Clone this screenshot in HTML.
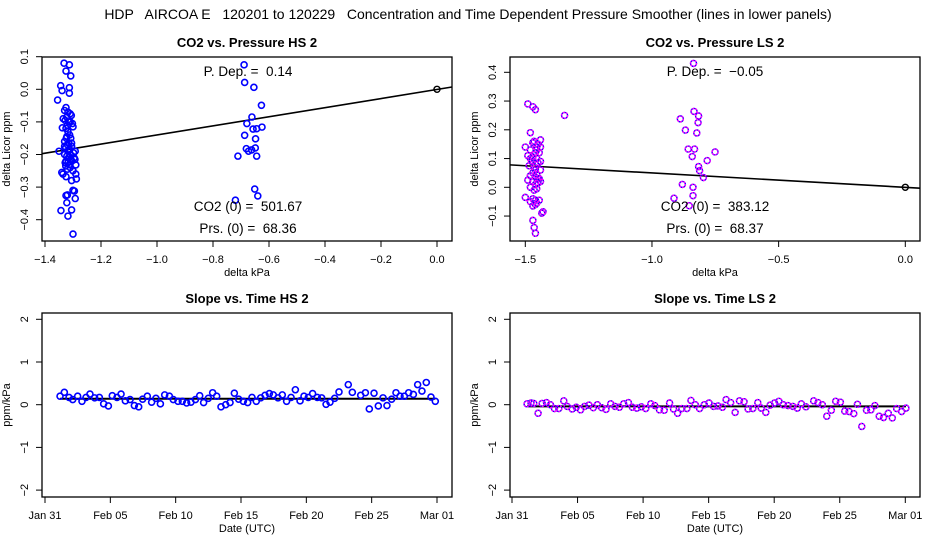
<!DOCTYPE html>
<html><head><meta charset="utf-8"><style>
body{margin:0;background:#fff;}
svg{display:block;font-family:"Liberation Sans",sans-serif;}
text{white-space:pre;}
</style></head><body>
<svg id="chart" width="936" height="540" xmlns="http://www.w3.org/2000/svg" xml:space="preserve">
<text x="468" y="19" font-size="14" text-anchor="middle">HDP   AIRCOA E   120201 to 120229   Concentration and Time Dependent Pressure Smoother (lines in lower panels)</text>
</svg>
<script>
// ---- data ----
const hsPresX = [-1.332,-1.313,-1.325,-1.308,-1.344,-1.313,-1.339,-1.313,-1.355,-1.325,-1.33,-1.318,-1.31,-1.322,-1.306,-1.335,-1.328,-1.315,-1.302,-1.32,-1.31,-1.325,-1.3,-1.318,-1.338,-1.312,-1.322,-1.308,-1.33,-1.315,-1.32,-1.305,-1.326,-1.312,-1.35,-1.318,-1.298,-1.33,-1.31,-1.322,-1.296,-1.316,-1.308,-1.325,-1.304,-1.318,-1.312,-1.29,-1.326,-1.31,-1.32,-1.3,-1.315,-1.305,-1.324,-1.33,-1.292,-1.34,-1.336,-1.29,-1.288,-1.305,-1.325,-1.3,-1.325,-1.295,-1.32,-1.292,-1.343,-1.305,-1.322,-1.293,-1.318,-1.31,-1.328,-1.3,
-0.689,-0.687,-0.654,-0.627,-0.661,-0.679,-0.657,-0.644,-0.625,-0.687,-0.648,-0.681,-0.649,-0.673,-0.662,-0.711,-0.644,-0.651,-0.64,-0.72];
const hsPresY = [0.08,0.075,0.056,0.041,0.011,0.005,-0.004,-0.012,-0.033,-0.056,-0.065,-0.07,-0.075,-0.085,-0.08,-0.09,-0.095,-0.1,-0.105,-0.11,-0.1,-0.12,-0.115,-0.13,-0.118,-0.14,-0.145,-0.15,-0.16,-0.165,-0.17,-0.175,-0.18,-0.185,-0.19,-0.19,-0.195,-0.2,-0.2,-0.205,-0.21,-0.21,-0.215,-0.22,-0.22,-0.225,-0.23,-0.232,-0.235,-0.24,-0.245,-0.25,-0.185,-0.165,-0.15,-0.175,-0.19,-0.255,-0.26,-0.26,-0.275,-0.28,-0.268,-0.31,-0.326,-0.312,-0.324,-0.335,-0.372,-0.37,-0.348,-0.215,-0.389,-0.2,-0.225,-0.444,
0.075,0.021,0.006,-0.049,-0.085,-0.105,-0.122,-0.121,-0.116,-0.141,-0.152,-0.182,-0.18,-0.19,-0.186,-0.205,-0.205,-0.306,-0.327,-0.34];
const lsPresX = [-1.49,-1.47,-1.46,-1.5,-1.48,-1.465,-1.45,-1.44,-1.47,-1.455,-1.48,-1.46,-1.445,-1.49,-1.47,-1.455,-1.44,-1.475,-1.46,-1.45,-1.485,-1.465,-1.44,-1.47,-1.455,-1.48,-1.46,-1.445,-1.49,-1.47,-1.45,-1.46,-1.44,-1.48,-1.465,-1.455,-1.5,-1.47,-1.46,-1.445,-1.48,-1.455,-1.47,-1.46,-1.44,-1.43,-1.435,-1.47,-1.465,-1.46,-1.48,-1.455,-1.47,-1.46,-1.45,-1.345,
-0.836,-0.834,-0.816,-0.818,-0.888,-0.868,-0.823,-0.857,-0.832,-0.841,-0.751,-0.782,-0.816,-0.812,-0.797,-0.88,-0.838,-0.838,-0.913,-0.853];
const lsPresY = [0.29,0.28,0.27,0.14,0.19,0.16,0.15,0.165,0.155,0.14,0.13,0.12,0.12,0.11,0.105,0.1,0.09,0.09,0.08,0.085,0.075,0.07,0.06,0.05,0.045,0.04,0.035,0.03,0.025,0.02,0.015,0.01,0.02,0.0,-0.01,-0.005,-0.035,-0.04,-0.045,-0.045,-0.05,-0.055,-0.065,0.06,0.14,-0.085,-0.09,-0.115,-0.14,-0.16,0.1,0.13,0.155,-0.06,0.03,0.25,
0.431,0.264,0.248,0.225,0.238,0.199,0.189,0.133,0.133,0.107,0.123,0.093,0.072,0.058,0.034,0.01,0.0,-0.029,-0.038,-0.064];
const hsDays = [1.15,1.48,1.84,2.12,2.5,2.83,3.14,3.44,3.8,4.16,4.49,4.85,5.15,5.51,5.82,6.15,6.51,6.84,7.17,7.47,7.83,8.16,8.49,8.83,9.16,9.52,9.82,10.18,10.51,10.84,11.17,11.51,11.84,12.14,12.5,12.83,13.14,13.47,13.83,14.16,14.49,14.82,15.18,15.51,15.84,16.17,16.51,16.84,17.17,17.47,17.83,18.16,18.49,18.83,19.16,19.52,19.82,20.15,20.48,20.84,21.17,21.51,21.81,22.17,22.5,23.21,23.52,24.16,24.52,24.82,25.18,25.51,25.87,26.17,26.53,26.86,27.17,27.5,27.83,28.19,28.52,28.85,29.18,29.54,29.87];
const hsSlopes = [0.2,0.29,0.17,0.12,0.2,0.08,0.17,0.25,0.16,0.17,0.02,-0.03,0.21,0.17,0.25,0.09,0.12,-0.02,-0.05,0.13,0.2,0.06,0.15,0.02,0.23,0.2,0.12,0.08,0.08,0.04,0.06,0.12,0.21,0.05,0.15,0.28,0.2,-0.05,0,0.05,0.27,0.13,0.08,0.05,0.17,0.08,0.16,0.22,0.26,0.23,0.16,0.23,0.08,0.17,0.35,0.09,0.2,0.17,0.26,0.17,0.16,0.01,0.06,0.15,0.3,0.47,0.29,0.22,0.28,-0.1,0.27,-0.03,0.16,-0.02,0.13,0.28,0.2,0.2,0.28,0.24,0.47,0.32,0.52,0.18,0.08];
const lsDays = [1.15,1.45,1.66,1.99,2.3,2.63,2.93,3.24,3.57,3.95,4.21,4.59,4.9,5.23,5.54,5.87,6.2,6.51,6.84,7.17,7.53,7.86,8.19,8.52,8.88,9.18,9.52,9.87,10.2,10.59,10.89,11.25,11.61,12.02,12.32,12.63,12.96,13.34,13.65,13.98,14.31,14.67,15.03,15.38,15.71,16.05,16.33,16.68,17.02,17.35,17.7,18.01,18.37,18.75,19.01,19.36,19.69,20.03,20.36,20.69,21.05,21.43,21.76,22.07,22.42,23.01,23.34,23.67,24.01,24.36,24.69,25.05,25.38,25.71,26.07,26.35,26.68,27.04,27.37,27.68,28.01,28.34,28.7,29.01,29.34,29.72,30.05];
const lsSlopes = [0.02,0.04,0.03,-0.2,0.03,0.05,0,-0.09,-0.09,0.09,-0.04,-0.1,-0.06,-0.12,-0.04,-0.01,-0.07,0,-0.07,-0.11,0.02,-0.04,-0.06,0.02,0.05,-0.06,-0.08,-0.05,-0.09,0.02,-0.02,-0.12,-0.13,0.04,-0.1,-0.2,-0.09,-0.09,0.1,0,-0.09,0,0.04,-0.04,-0.03,-0.06,0.12,0.05,-0.18,0.09,0.07,-0.1,-0.09,0.05,-0.08,-0.18,-0.01,0.04,0.08,0,-0.02,-0.04,-0.08,0.02,-0.05,0.09,0.05,0,-0.27,-0.13,0.08,0.06,-0.15,-0.16,-0.21,0.01,-0.51,-0.13,-0.12,-0.02,-0.27,-0.3,-0.2,-0.31,-0.09,-0.16,-0.08];
const hsPDep = 0.14, lsPDep = -0.05;
const hsSmooth = 0.14, lsSmooth = -0.04;
const dateTicks = [0,5,10,15,20,25,30];
const dateLabels = ["Jan 31","Feb 05","Feb 10","Feb 15","Feb 20","Feb 25","Mar 01"];
const hsXTicks = [-1.4,-1.2,-1.0,-0.8,-0.6,-0.4,-0.2,0.0];
const hsYTicks = [-0.4,-0.3,-0.2,-0.1,0.0,0.1];
const lsXTicks = [-1.5,-1.0,-0.5,0.0];
const lsYTicks = [-0.1,0.0,0.1,0.2,0.3,0.4];
const slopeYTicks = [-2,-1,0,1,2];

const svg = document.getElementById('chart');
const NS = 'http://www.w3.org/2000/svg';
function mk(tag, attrs, parent){
  const e = document.createElementNS(NS, tag);
  for (const k in attrs) e.setAttribute(k, attrs[k]);
  (parent||svg).appendChild(e);
  return e;
}
function lin(d0,d1,p0,p1){ return v => p0 + (v-d0)*(p1-p0)/(d1-d0); }
function fmt(v,dec){ let s=v.toFixed(dec); return s.replace('-','\u2212'); }

function panel(o){
  const g = mk('g',{});
  
  
  const box = mk('rect',{x:o.L,y:o.T,width:o.R-o.L,height:o.B-o.T,fill:'none',stroke:'#000','stroke-width':1.3},g);
  
  
  const t = mk('text',{x:(o.L+o.R)/2,y:o.T-10,'font-size':13,'font-weight':'bold','text-anchor':'middle'},g);
  t.textContent = o.title;
  
  
  const xa = mk('g',{},g);
  
  
  o.xTicks.forEach((v,i)=>{
    const x = o.sx(v);
    mk('line',{x1:x,x2:x,y1:o.B,y2:o.B+6,stroke:'#000'},xa);
    const l = mk('text',{x:x,y:o.B+22,'font-size':11,'text-anchor':'middle'},xa);
    l.textContent = o.xLabels ? o.xLabels[i] : fmt(v,1);
    
    
  });
  const xt = mk('text',{x:(o.L+o.R)/2,y:o.B+35,'font-size':11,'text-anchor':'middle'},g);
  xt.textContent = o.xTitle;
  
  
  const ya = mk('g',{},g);
  
  
  o.yTicks.forEach(v=>{
    const y = o.sy(v);
    mk('line',{x1:o.L-6,x2:o.L,y1:y,y2:y,stroke:'#000'},ya);
    const l = mk('text',{x:o.L-14,y:y,'font-size':11,'text-anchor':'middle',transform:`rotate(-90 ${o.L-14} ${y})`},ya);
    l.textContent = fmt(v,o.yDec);
    
    
  });
  const ytx = o.L-32, yty = (o.T+o.B)/2;
  const yt = mk('text',{x:ytx,y:yty,'font-size':11,'text-anchor':'middle',transform:`rotate(-90 ${ytx} ${yty})`},g);
  yt.textContent = o.yTitle;
  
  
  return g;
}
function points(g, xs, ys, sx, sy, ls){
  const pg = mk('g',{},g);
  
  
  xs.forEach((xv,i)=>{
    if (ls){
      mk('circle',{cx:sx(xv),cy:sy(ys[i]),r:3,fill:'none',stroke:'#0000ff','stroke-width':1.4},pg);
      const c = mk('circle',{cx:sx(xv),cy:sy(ys[i]),r:3,fill:'none',stroke:'#ff00ff','stroke-width':1.4,'stroke-dasharray':'2,1'},pg);
      
      
    } else {
      const c = mk('circle',{cx:sx(xv),cy:sy(ys[i]),r:3,fill:'none',stroke:'#0000ff','stroke-width':1.6},pg);
      
      
    }
  });
}
function label(g,x,y,txt,name){
  const t = mk('text',{x:x,y:y,'font-size':13.5,'text-anchor':'middle'},g);
  t.textContent = txt;
  
  
}

{
  const sx = lin(-1.4,0,45,437), sy = lin(0,0.1,89.3,56.7);
  const o = {name:'co2-vs-pressure-hs-panel',L:42,R:452,T:57,B:241,sx,sy,xTicks:hsXTicks,yTicks:hsYTicks,yDec:1,title:'CO2 vs. Pressure HS 2',xTitle:'delta kPa',yTitle:'delta Licor ppm'};
  const g = panel(o);
  const fl = mk('line',{x1:42,x2:452,y1:sy(hsPDep*-1.41),y2:sy(hsPDep*0.05),stroke:'#000','stroke-width':1.6},g);
  
  
  points(g,hsPresX,hsPresY,sx,sy,false);
  const z = mk('circle',{cx:sx(0),cy:sy(0),r:3,fill:'none',stroke:'#000','stroke-width':1.4},g);
  
  
  label(g,248,76,'P. Dep. =  0.14','p-dep-label');
  label(g,248,211,'CO2 (0) =  501.67','co2-zero-label');
  label(g,248,233,'Prs. (0) =  68.36','prs-zero-label');
}
{
  const sx = lin(-1.5,0,525.3,905.3), sy = lin(0,0.4,187.3,72.3);
  const o = {name:'co2-vs-pressure-ls-panel',L:510,R:920,T:57,B:241,sx,sy,xTicks:lsXTicks,yTicks:lsYTicks,yDec:1,title:'CO2 vs. Pressure LS 2',xTitle:'delta kPa',yTitle:'delta Licor ppm'};
  const g = panel(o);
  const fl = mk('line',{x1:510,x2:920,y1:sy(lsPDep*-1.56),y2:sy(lsPDep*0.06),stroke:'#000','stroke-width':1.6},g);
  
  
  points(g,lsPresX,lsPresY,sx,sy,true);
  const z = mk('circle',{cx:sx(0),cy:sy(0),r:3,fill:'none',stroke:'#000','stroke-width':1.4},g);
  
  
  label(g,715,76,'P. Dep. =  \u22120.05','p-dep-label');
  label(g,715,211,'CO2 (0) =  383.12','co2-zero-label');
  label(g,715,233,'Prs. (0) =  68.37','prs-zero-label');
}
{
  const sx = lin(0,30,45,437), sy = lin(0,1,404.7,362);
  const o = {name:'slope-vs-time-hs-panel',L:42,R:452,T:313,B:497,sx,sy,xTicks:dateTicks,xLabels:dateLabels,yTicks:slopeYTicks,yDec:0,title:'Slope vs. Time HS 2',xTitle:'Date (UTC)',yTitle:'ppm/kPa'};
  const g = panel(o);
  const sl = mk('line',{x1:sx(hsDays[0]),x2:sx(hsDays[hsDays.length-1]),y1:sy(hsSmooth),y2:sy(hsSmooth),stroke:'#000','stroke-width':2},g);
  
  
  points(g,hsDays,hsSlopes,sx,sy,false);
}
{
  const sx = lin(0,30,512,905.3), sy = lin(0,1,404.7,362);
  const o = {name:'slope-vs-time-ls-panel',L:510,R:920,T:313,B:497,sx,sy,xTicks:dateTicks,xLabels:dateLabels,yTicks:slopeYTicks,yDec:0,title:'Slope vs. Time LS 2',xTitle:'Date (UTC)',yTitle:'ppm/kPa'};
  const g = panel(o);
  const sl = mk('line',{x1:sx(lsDays[0]),x2:sx(lsDays[lsDays.length-1]),y1:sy(lsSmooth),y2:sy(lsSmooth),stroke:'#000','stroke-width':2},g);
  
  
  points(g,lsDays,lsSlopes,sx,sy,true);
}
</script>
</body></html>
